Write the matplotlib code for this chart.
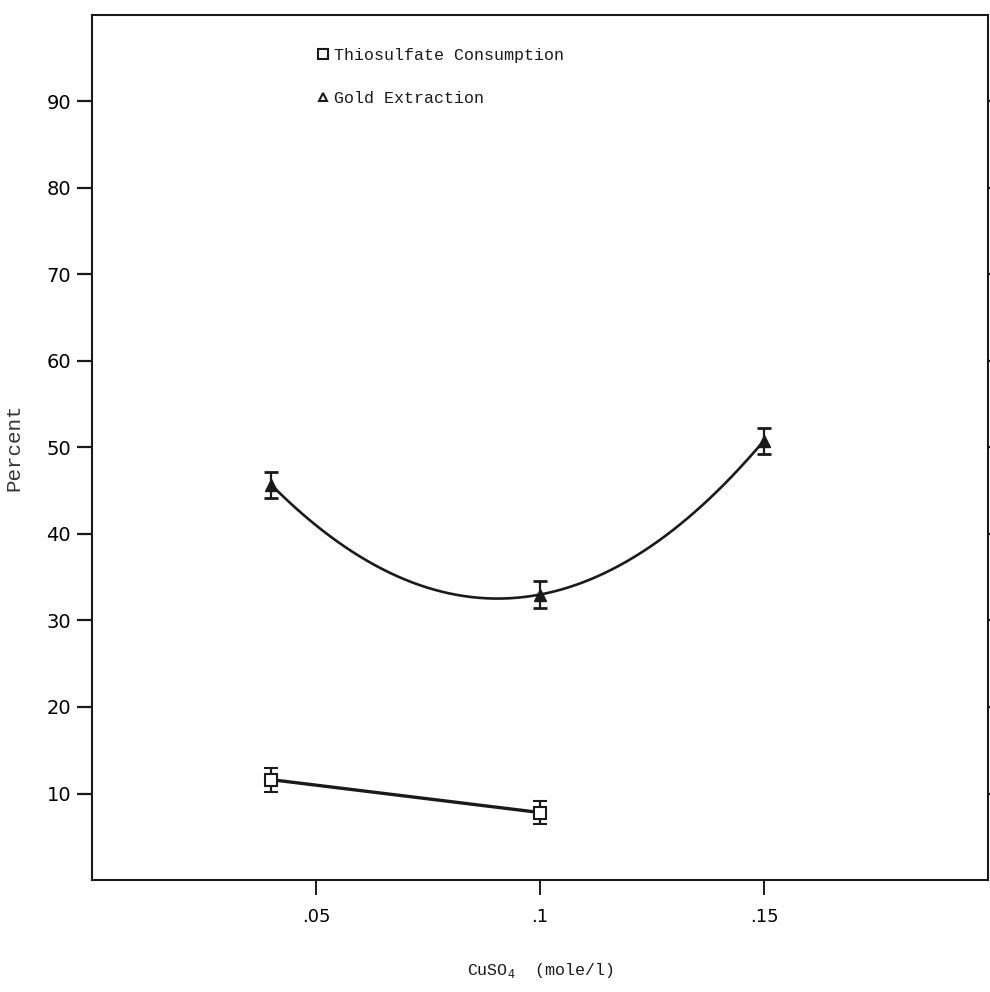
import numpy as np
import matplotlib
matplotlib.use("Agg")
import matplotlib.pyplot as plt
from matplotlib.lines import Line2D

# data
cuso4 = [0.04, 0.10, 0.15]
gold_extraction = [45.7, 33.0, 50.8]
gold_err = [1.5, 1.6, 1.5]

cuso4_thio = [0.04, 0.10]
thio_consumption = [11.6, 7.8]
thio_err = [1.4, 1.3]

x_ticks = [0.05, 0.10, 0.15]
x_ticklabels = ['.05', '.1', '.15']
y_ticks = [10, 20, 30, 40, 50, 60, 70, 80, 90]

mono = 'Liberation Mono'
sans = 'DejaVu Sans'
ink = '#1a1a1a'

fig = plt.figure(figsize=(9.9, 9.92), dpi=100)
ax = fig.add_axes([0.0929, 0.1129, 0.9051, 0.872])

# Gold extraction: smooth 2nd order fit through the three points
coef = np.polyfit(cuso4, gold_extraction, 2)
xs = np.linspace(min(cuso4), max(cuso4), 200)
ax.plot(xs, np.polyval(coef, xs), color=ink, lw=1.9, zorder=3)
ax.errorbar(cuso4, gold_extraction, yerr=gold_err, fmt='^', color=ink,
            ms=8, capsize=5, capthick=2, elinewidth=1.6, zorder=4)

# Thiosulfate consumption
ax.plot(cuso4_thio, thio_consumption, color=ink, lw=2.4, zorder=3)
ax.errorbar(cuso4_thio, thio_consumption, yerr=thio_err, fmt='s', color=ink,
            mfc='white', mec=ink, mew=1.5, ms=8, capsize=5, capthick=2,
            elinewidth=1.6, zorder=4)

ax.set_xlim(0, 0.2)
ax.set_ylim(0, 100)
ax.set_xticks(x_ticks)
ax.set_xticklabels(x_ticklabels, fontfamily=sans, fontsize=13)
ax.set_yticks(y_ticks)
ax.set_yticklabels([str(v) for v in y_ticks], fontfamily=sans, fontsize=14)

ax.tick_params(axis='y', direction='out', length=11, width=1.6, pad=4,
               left=True, right=True, color=ink)
ax.tick_params(axis='x', direction='out', length=11, width=1.4, pad=9,
               color=ink)
for s in ax.spines.values():
    s.set_linewidth(1.5)
    s.set_color(ink)

ax.set_xlabel(r'CuSO$_\mathregular{4}$  (mole/l)', fontfamily=mono, fontsize=12,
              color=ink)
ax.xaxis.set_label_coords(0.5, -0.094)
ax.set_ylabel('Percent', fontfamily=mono, fontsize=15, color='#333333')
ax.yaxis.set_label_coords(-0.076, 0.5)

handles = [
    Line2D([], [], ls='none', marker='s', ms=7, mfc='white', mec=ink, mew=1.5),
    Line2D([], [], ls='none', marker='^', ms=6, mfc='white', mec=ink, mew=1.5),
]
leg = ax.legend(handles, ['Thiosulfate Consumption', 'Gold Extraction'],
                loc='upper left', bbox_to_anchor=(0.235, 0.979), frameon=False,
                prop={'family': mono, 'size': 12}, handlelength=0.6,
                handletextpad=0.4, labelspacing=1.65)
for t in leg.get_texts():
    t.set_color(ink)

fig.savefig('out.png', dpi=100, facecolor='white')
